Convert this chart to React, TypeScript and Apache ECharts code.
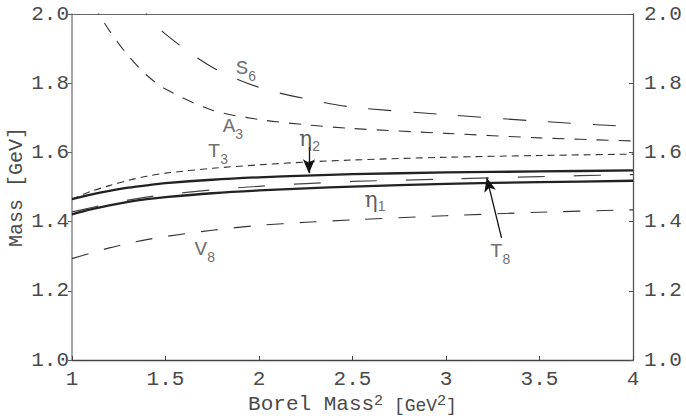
import React, { useEffect, useRef } from "react";
import * as echarts from "echarts";

// Borel mass squared grid [GeV^2]
const borelX = [1, 1.1, 1.2, 1.3, 1.4, 1.5, 1.75, 2, 2.25, 2.5, 3, 3.5, 4];

// Masses [GeV]
const eta2 = [1.465, 1.478, 1.489, 1.498, 1.505, 1.511, 1.521, 1.528, 1.533, 1.537, 1.542, 1.545, 1.548];
const eta1 = [1.421, 1.435, 1.447, 1.457, 1.465, 1.471, 1.482, 1.49, 1.496, 1.501, 1.509, 1.514, 1.518];
const t8 = [1.428, 1.44, 1.452, 1.462, 1.471, 1.478, 1.492, 1.502, 1.51, 1.516, 1.523, 1.53, 1.536];
const t3 = [1.465, 1.487, 1.504, 1.519, 1.531, 1.54, 1.554, 1.564, 1.572, 1.578, 1.586, 1.591, 1.595];
const v8 = [1.293, 1.309, 1.324, 1.337, 1.348, 1.357, 1.375, 1.389, 1.398, 1.405, 1.417, 1.427, 1.434];
const a3 = [2.14, 2.04, 1.952, 1.88, 1.823, 1.783, 1.722, 1.695, 1.68, 1.669, 1.655, 1.642, 1.633];
const s6 = [2.4, 2.29, 2.18, 2.08, 2.0, 1.942, 1.846, 1.788, 1.755, 1.731, 1.709, 1.69, 1.674];

const xTicks = [1, 1.5, 2, 2.5, 3, 3.5, 4];

// curve labels (text, x, y)
const labelText = ["{m|S}{s|6}", "{m|A}{s|3}", "{m|T}{s|3}", "{e|η}{s|2}", "{e|η}{s|1}", "{m|T}{s|8}", "{m|V}{s|8}"];
const labelX = [1.93, 1.86, 1.78, 2.27, 2.62, 3.29, 1.71];
const labelY = [1.84, 1.673, 1.6, 1.64, 1.465, 1.313, 1.318];

// arrows: [x0, y0, x1, y1]
const arrowEta2 = [2.267, 1.616, 2.267, 1.54];
const arrowT8 = [3.297, 1.353, 3.218, 1.527];

const MONO = "'Liberation Mono', 'Courier New', monospace";
const TEXT = "#4a4a4a";

function pairs(ys: number[]) {
  return borelX.map((x, i) => [x, ys[i]]);
}

export default function App() {
  const ref = useRef<HTMLDivElement>(null);
  useEffect(() => {
    if (!ref.current) return;
    const chart = echarts.init(ref.current, undefined, { renderer: "svg" });
    const curve = (name: string, ys: number[], color: string, width: number, type: any) => ({
      name,
      type: "line",
      data: pairs(ys),
      smooth: 0.3,
      showSymbol: false,
      symbol: "none",
      silent: true,
      lineStyle: { color, width, type },
      z: 2,
    });
    const yLabels = (margin: number) => ({
      fontFamily: MONO,
      fontSize: 21,
      color: TEXT,
      margin,
      formatter: (v: number) => v.toFixed(1),
    });
    chart.setOption({
      animation: false,
      grid: { left: 72, right: 53, top: 14, bottom: 56, outerBoundsMode: "none", containLabel: false },
      xAxis: [
        {
          type: "value",
          min: 1,
          max: 4,
          interval: 0.5,
          position: "bottom",
          axisLine: { lineStyle: { color: "#444", width: 1.3 } },
          axisTick: { inside: true, length: 4, lineStyle: { color: "#444" } },
          splitLine: { show: false },
          axisLabel: {
            fontFamily: MONO,
            fontSize: 21,
            color: TEXT,
            margin: 9,
            showMinLabel: true,
            showMaxLabel: true,
            formatter: (v: number) => (xTicks.includes(v) ? String(v) : ""),
          },
          name: "{a|Borel Mass}{p|2}{b| [GeV}{q|2}{b|]}",
          nameLocation: "middle",
          nameGap: 34,
          nameMoveOverlap: false,
          nameTextStyle: {
            rich: {
              a: { fontFamily: MONO, fontSize: 21, color: TEXT, lineHeight: 21, verticalAlign: "top" },
              p: { fontFamily: MONO, fontSize: 15, color: TEXT, lineHeight: 14, verticalAlign: "top" },
              b: { fontFamily: MONO, fontSize: 18, color: TEXT, lineHeight: 18, verticalAlign: "top", padding: [3, 0, 0, 0] },
              q: { fontFamily: MONO, fontSize: 15, color: TEXT, lineHeight: 14, verticalAlign: "top" },
            },
          },
        },
        {
          type: "value",
          min: 1,
          max: 4,
          position: "top",
          axisLine: { show: true, lineStyle: { color: "#666", width: 1.2 } },
          axisTick: { show: false },
          axisLabel: { show: false },
          splitLine: { show: false },
        },
      ],
      yAxis: [
        {
          type: "value",
          min: 1,
          max: 2,
          interval: 0.2,
          position: "left",
          axisLine: { show: true, lineStyle: { color: "#888", width: 1.5 } },
          axisTick: { show: true, inside: false, length: 4, lineStyle: { color: "#666" } },
          splitLine: { show: false },
          axisLabel: yLabels(3),
          name: "Mass [GeV]",
          nameLocation: "middle",
          nameRotate: 90,
          nameGap: 46,
          nameMoveOverlap: false,
          nameTextStyle: { fontFamily: MONO, fontSize: 20, color: TEXT },
        },
        {
          type: "value",
          min: 1,
          max: 2,
          interval: 0.2,
          position: "right",
          axisLine: { show: true, lineStyle: { color: "#555", width: 1.3 } },
          axisTick: { show: true, inside: true, length: 4, lineStyle: { color: "#555" } },
          splitLine: { show: false },
          axisLabel: yLabels(11),
        },
      ],
      series: [
        curve("S6", s6, "#333", 1.1, [23, 22]),
        curve("A3", a3, "#333", 1.1, [12, 10]),
        curve("T3", t3, "#333", 1.1, [7, 5]),
        curve("V8", v8, "#333", 1.1, [17, 16]),
        curve("T8", t8, "#444", 1.2, [27, 29]),
        curve("eta2", eta2, "#222", 2.3, "solid"),
        curve("eta1", eta1, "#222", 2.3, "solid"),
        {
          name: "labels",
          type: "scatter",
          symbolSize: 0,
          silent: true,
          data: labelX.map((x, i) => [x, labelY[i]]),
          label: {
            show: true,
            position: "inside",
            formatter: (p: any) => labelText[p.dataIndex],
            rich: {
              m: { fontFamily: MONO, fontSize: 21, color: TEXT, lineHeight: 22, verticalAlign: "top" },
              e: { fontFamily: "'DejaVu Serif', serif", fontSize: 22, color: "#333", lineHeight: 22, verticalAlign: "top" },
              s: { fontFamily: "'Liberation Sans', sans-serif", fontSize: 14, color: TEXT, lineHeight: 14, verticalAlign: "top", padding: [11, 0, 0, 0] },
            },
          },
          z: 5,
        },
        {
          name: "arrows",
          type: "line",
          data: [],
          silent: true,
          markLine: {
            silent: true,
            animation: false,
            symbol: ["none", "arrow"],
            symbolSize: [9, 14],
            label: { show: false },
            lineStyle: { color: "#111", width: 1.3, type: "solid" },
            data: [
              [
                { coord: [arrowEta2[0], arrowEta2[1]] },
                { coord: [arrowEta2[2], arrowEta2[3]] },
              ],
              [
                { coord: [arrowT8[0], arrowT8[1]] },
                { coord: [arrowT8[2], arrowT8[3]] },
              ],
            ],
          },
        },
      ],
    });
    return () => chart.dispose();
  }, []);
  return (
    <div
      ref={ref}
      style={{ position: "fixed", left: 0, top: 0, width: 686, height: 416, background: "#fff" }}
    />
  );
}
